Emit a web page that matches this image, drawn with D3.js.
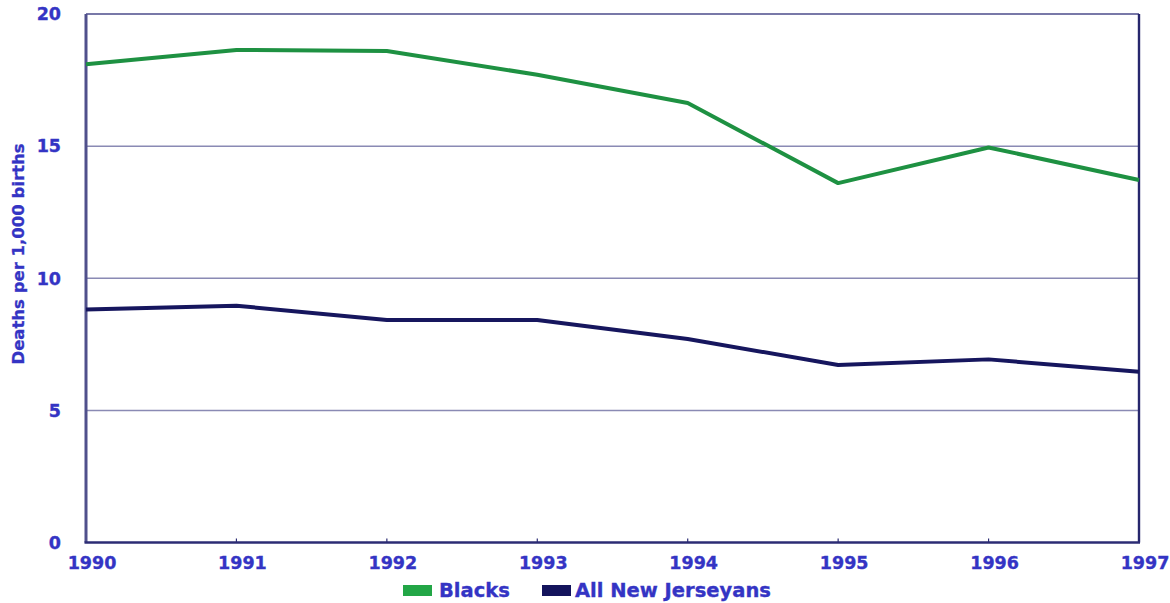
<!DOCTYPE html>
<html>
<head>
<meta charset="utf-8">
<script src="https://cdn.jsdelivr.net/npm/d3@7"></script>
<style>
  html, body { margin: 0; padding: 0; background: #ffffff; }
  svg text { font-family: "DejaVu Sans", "Liberation Sans", Arial, sans-serif; font-weight: bold; }
</style>
</head>
<body>
<svg id="chart" width="1170" height="603"></svg>
<script>
// Infant mortality, deaths per 1,000 births
const years = [1990, 1991, 1992, 1993, 1994, 1995, 1996, 1997];
const blacks = [18.1, 18.64, 18.6, 17.7, 16.63, 13.6, 14.95, 13.72];
const allNJ = [8.82, 8.96, 8.42, 8.42, 7.7, 6.72, 6.93, 6.46];
const yTicks = [0, 5, 10, 15, 20];
const seriesNames = ["Blacks", "All New Jerseyans"];

const textColor = "#3434c4";
const colors = { "Blacks": "#1e9142", "All New Jerseyans": "#16165e" };
const legendColors = { "Blacks": "#22a646", "All New Jerseyans": "#14145c" };

const svg = d3.select("#chart");
const margin = { left: 86, right: 31, top: 14, bottom: 60 };
const W = 1170, H = 603;

const x = d3.scaleLinear()
  .domain([years[0], years[years.length - 1]])
  .range([margin.left, W - margin.right]);
const y = d3.scaleLinear()
  .domain([0, 20])
  .range([H - margin.bottom - 0.5, margin.top]);

// horizontal gridlines
svg.append("g")
  .selectAll("line")
  .data(yTicks.filter(d => d > 0 && d < 20))
  .join("line")
  .attr("x1", x.range()[0]).attr("x2", x.range()[1])
  .attr("y1", d => y(d)).attr("y2", d => y(d))
  .attr("stroke", "#8a8ab4").attr("stroke-width", 1.5);

// frame: top border lighter, other sides dark
svg.append("line")
  .attr("x1", x.range()[0]).attr("x2", x.range()[1])
  .attr("y1", y(20)).attr("y2", y(20))
  .attr("stroke", "#7878a8").attr("stroke-width", 2.2);
svg.append("line")
  .attr("x1", x.range()[1]).attr("x2", x.range()[1])
  .attr("y1", y(20)).attr("y2", y(0))
  .attr("stroke", "#26266c").attr("stroke-width", 2.4);
svg.append("line")
  .attr("x1", x.range()[0]).attr("x2", x.range()[0])
  .attr("y1", y(20)).attr("y2", y(0))
  .attr("stroke", "#50508c").attr("stroke-width", 3);
svg.append("line")
  .attr("x1", x.range()[0] - 1.5).attr("x2", x.range()[1] + 1)
  .attr("y1", y(0)).attr("y2", y(0))
  .attr("stroke", "#2c2c74").attr("stroke-width", 2.6);

// small inward ticks on the year axis
svg.append("g")
  .selectAll("line")
  .data(years.slice(1, -1))
  .join("line")
  .attr("x1", d => x(d)).attr("x2", d => x(d))
  .attr("y1", y(0)).attr("y2", y(0) - 4)
  .attr("stroke", "#2c2c74").attr("stroke-width", 1.2);

// y tick labels
svg.append("g")
  .selectAll("text")
  .data(yTicks)
  .join("text")
  .attr("x", 61)
  .attr("y", d => y(d))
  .attr("dy", "0.36em")
  .attr("text-anchor", "end")
  .attr("font-size", 17.5)
  .attr("fill", textColor)
  .attr("stroke", textColor).attr("stroke-width", 0.35)
  .text(d => d);

// x tick labels
svg.append("g")
  .selectAll("text")
  .data(years)
  .join("text")
  .attr("x", d => x(d) + 6)
  .attr("y", 569)
  .attr("text-anchor", "middle")
  .attr("font-size", 17.5)
  .attr("fill", textColor)
  .attr("stroke", textColor).attr("stroke-width", 0.35)
  .text(d => d);

// y axis title
svg.append("text")
  .attr("transform", "translate(24," + 254 + ") rotate(-90)")
  .attr("text-anchor", "middle")
  .attr("font-size", 16.5)
  .attr("fill", textColor)
  .attr("stroke", textColor).attr("stroke-width", 0.3)
  .text("Deaths per 1,000 births");

// series lines
const line = d3.line()
  .x((d, i) => x(years[i]))
  .y(d => y(d));

const series = [
  { name: "All New Jerseyans", values: allNJ },
  { name: "Blacks", values: blacks }
];
svg.append("g")
  .selectAll("path")
  .data(series)
  .join("path")
  .attr("d", d => line(d.values))
  .attr("fill", "none")
  .attr("stroke", d => colors[d.name])
  .attr("stroke-width", 4)
  .attr("stroke-linejoin", "round");

// legend
const legendItems = [
  { name: seriesNames[0], sx: 403, tx: 439 },
  { name: seriesNames[1], sx: 542, tx: 575 }
];
const lg = svg.append("g");
lg.selectAll("rect")
  .data(legendItems)
  .join("rect")
  .attr("x", d => d.sx)
  .attr("y", 585)
  .attr("width", 29)
  .attr("height", 11)
  .attr("fill", d => legendColors[d.name]);
lg.selectAll("text")
  .data(legendItems)
  .join("text")
  .attr("x", d => d.tx)
  .attr("y", 597)
  .attr("font-size", 19.5)
  .attr("fill", textColor)
  .attr("stroke", textColor).attr("stroke-width", 0.35)
  .text(d => d.name);
</script>
</body>
</html>
